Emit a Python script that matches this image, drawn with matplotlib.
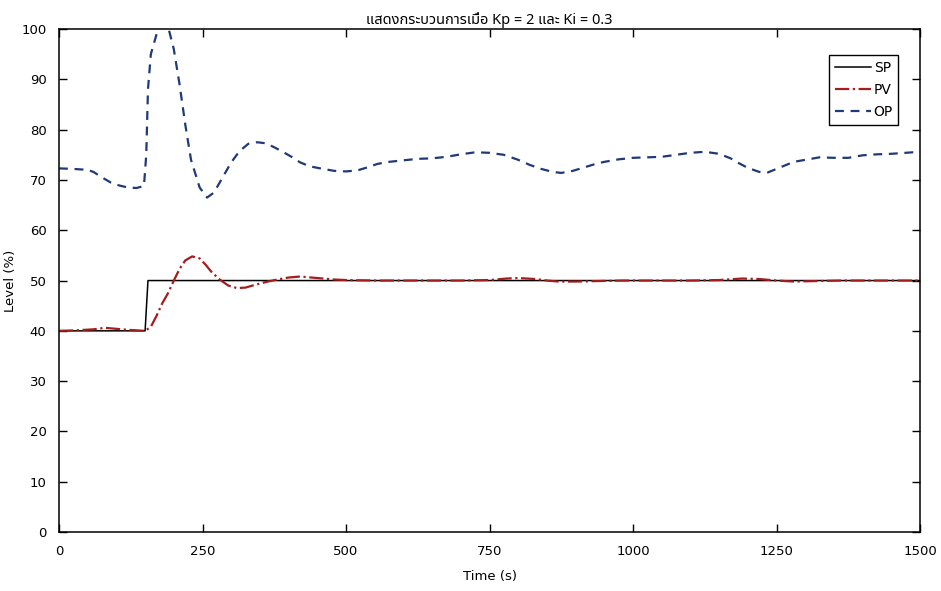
import matplotlib
matplotlib.use("Agg")
import matplotlib.pyplot as plt
from matplotlib import font_manager

# datos
sp_t = [0, 150, 155, 1500]
sp_v = [40, 40, 50, 50]

pv_t = [0, 30, 60, 80, 100, 120, 150, 160, 170, 180, 190, 200, 210, 220, 232, 245,
        255, 265, 280, 295, 310, 325, 340, 360, 380, 400, 420, 440, 460, 480, 500,
        550, 600, 650, 700, 750, 780, 800, 830, 850, 870, 900, 940, 980, 1020, 1060,
        1100, 1150, 1190, 1220, 1250, 1280, 1320, 1360, 1400, 1450, 1500]
pv_v = [40.0, 40.1, 40.3, 40.6, 40.4, 40.2, 40.0, 40.8, 43.0, 45.5, 47.5, 50.0, 52.3,
        54.0, 54.8, 54.4, 53.2, 51.8, 50.2, 49.0, 48.5, 48.6, 49.1, 49.7, 50.2, 50.6,
        50.8, 50.6, 50.4, 50.2, 50.1, 50.0, 50.0, 50.0, 50.0, 50.1, 50.4, 50.5, 50.3,
        50.0, 49.8, 49.8, 49.9, 50.0, 50.0, 50.0, 50.0, 50.1, 50.4, 50.3, 50.0, 49.8,
        49.9, 50.0, 50.0, 50.0, 50.0]

op_t = [0, 25, 50, 60, 75, 90, 105, 120, 135, 148, 152, 155, 160, 170, 180, 190, 200,
        210, 220, 230, 245, 258, 270, 285, 300, 315, 330, 345, 360, 375, 390, 405, 420,
        437, 460, 480, 500, 520, 540, 555, 575, 600, 625, 650, 675, 700, 725, 750, 775,
        800, 820, 840, 860, 875, 895, 915, 935, 950, 975, 1000, 1025, 1050, 1075, 1100,
        1125, 1150, 1170, 1185, 1200, 1220, 1235, 1250, 1265, 1280, 1300, 1325, 1350,
        1375, 1400, 1425, 1450, 1475, 1500]
op_v = [72.3, 72.2, 72.0, 71.6, 70.5, 69.5, 68.9, 68.5, 68.4, 68.8, 75.0, 88.0, 95.0,
        99.0, 101.0, 100.5, 96.0, 89.0, 81.0, 74.0, 68.5, 66.5, 67.5, 70.5, 73.5, 75.8,
        77.2, 77.5, 77.3, 76.5, 75.6, 74.6, 73.5, 72.7, 72.2, 71.8, 71.7, 71.9, 72.6,
        73.2, 73.6, 73.9, 74.2, 74.3, 74.6, 75.1, 75.5, 75.4, 75.0, 74.0, 73.0, 72.2,
        71.6, 71.4, 71.8, 72.5, 73.2, 73.6, 74.1, 74.4, 74.5, 74.6, 75.0, 75.4, 75.6,
        75.2, 74.3, 73.3, 72.4, 71.6, 71.5, 72.2, 72.9, 73.6, 74.0, 74.5, 74.4, 74.4,
        74.9, 75.1, 75.2, 75.4, 75.6]

x_ticks = [0, 250, 500, 750, 1000, 1250, 1500]
y_ticks = [0, 10, 20, 30, 40, 50, 60, 70, 80, 90, 100]

titulo = "แสดงกระบวนการเมื่อ Kp = 2 และ Ki = 0.3"

# fuente con glifos tailandeses
disponibles = set(f.name for f in font_manager.fontManager.ttflist)
fuente_thai = "DejaVu Sans"
for nombre in ["Noto Sans Thai", "Noto Sans Thai Looped", "Sarabun", "Kanit", "Prompt",
               "IBM Plex Sans Thai", "Niramit"]:
    if nombre in disponibles:
        fuente_thai = nombre
        break

fig = plt.figure(figsize=(9.41, 5.91), dpi=100)
ax = fig.add_axes([0.0627, 0.0998, 0.915, 0.851])

ax.plot(sp_t, sp_v, color='black', linewidth=1.1, label='SP')
ax.plot(pv_t, pv_v, color='#a31d1d', linewidth=1.6, linestyle='-.', label='PV')
ax.plot(op_t, op_v, color='#1e3a78', linewidth=1.6, linestyle=(0, (4, 3)), label='OP')

ax.set_xlim(0, 1500)
ax.set_ylim(0, 100)
ax.set_xticks(x_ticks)
ax.set_yticks(y_ticks)
ax.tick_params(direction='in', top=True, right=True, length=6, width=1, labelsize=9.5)
ax.tick_params(axis='x', pad=9)
ax.tick_params(axis='y', pad=9)
for s in ax.spines.values():
    s.set_linewidth(1.1)

ax.set_title(titulo, family=[fuente_thai, 'DejaVu Sans'], fontsize=10.5, pad=4)
ax.set_xlabel('Time (s)', fontsize=9.5, labelpad=9)
ax.set_ylabel('Level (%)', fontsize=9.5, labelpad=3)

leg = ax.legend(loc='upper right', bbox_to_anchor=(0.983, 0.962), fancybox=False,
                edgecolor='black', fontsize=10, handlelength=2.6, handletextpad=0.2,
                borderpad=0.4, labelspacing=0.6, framealpha=1)
leg.get_frame().set_linewidth(1.0)

fig.savefig('out.png', dpi=100)
